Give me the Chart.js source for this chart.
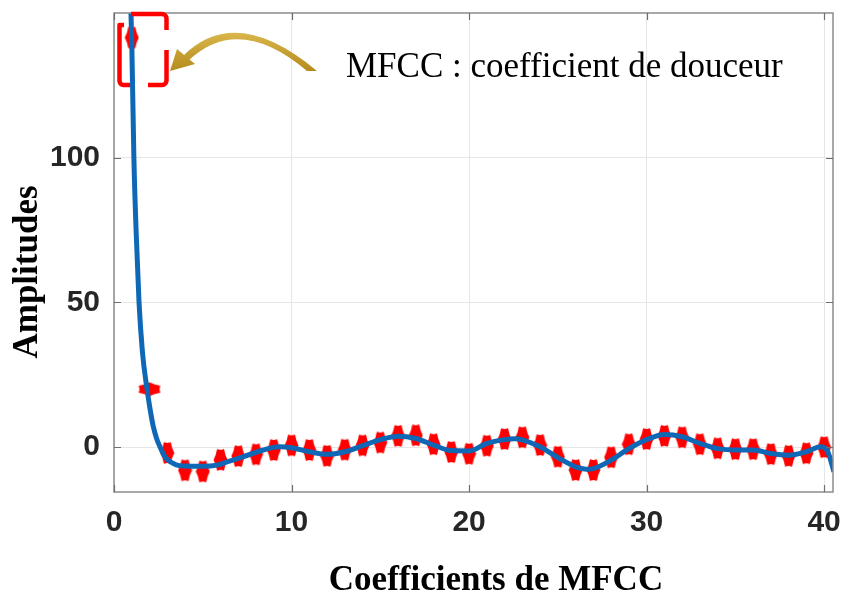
<!DOCTYPE html>
<html>
<head>
<meta charset="utf-8">
<script src="https://cdn.jsdelivr.net/npm/chart.js@4.4.1/dist/chart.umd.min.js"></script>
<style>
	html, body { margin: 0; padding: 0; background: #fff; }
	#c { display: block; }
</style>
</head>
<body>
<canvas id="c" width="843" height="596"></canvas>
<script>
// MFCC coefficients (red markers) and the smooth fitted curve (blue line).
const COEF_X = [1, 2, 3, 4, 5, 6, 7, 8, 9, 10, 11, 12, 13, 14, 15, 16, 17, 18, 19, 20,
	21, 22, 23, 24, 25, 26, 27, 28, 29, 30, 31, 32, 33, 34, 35, 36, 37, 38, 39, 40];
const COEF_Y = [141.5, 20, -2, -8, -8.4, -4.4, -3.1, -2.5, -1, 0.6, -1, -3, -0.9, 0.6, 1.6, 3.9, 4.1, 1, -1.7, -2.3,
	0.5, 2.8, 3.4, 0.7, -3.3, -7.9, -7.9, -3.5, 1, 2.8, 3.9, 3.4, 1, -0.4, -0.7, -0.7, -2.4, -3, -2.1, 0];

const FIT_X = [0.9, 1, 1.12, 1.25, 1.41, 1.6, 1.86, 2.05, 2.2, 2.4, 2.6, 2.8, 3, 3.5, 4, 5, 5.8, 6.5, 7.3, 8.4, 9.3, 10, 11, 12, 13, 14,
	15, 16, 17, 18, 19, 20, 21, 22, 22.6, 23, 24, 25, 26, 26.6, 27, 28, 29, 30, 31, 32, 33, 34, 35, 36,
	37, 38, 39, 39.8, 40.2, 40.55];
const FIT_Y = [162, 140, 100, 74, 50, 33, 20, 12.5, 7.5, 3, 0, -2.6, -4.3, -6.1, -6.5, -6.6, -6.2, -4.8, -3.3, -1, 0.1, -0.2, -1.6, -2.5, -1.6, 0.5,
	2.6, 3.8, 3, 0.7, -1.2, -1.3, 1.3, 2.6, 2.9, 2.5, 0.1, -3.6, -6.8, -7.6, -7.4, -4.5, -0.5, 2.6, 4.4, 3.6, 1.3, -0.5, -1, -1,
	-2.2, -2.8, -1.6, 0.1, -1.5, -8.5];

const X_TICKS = [0, 10, 20, 30, 40];
const Y_TICKS = [0, 50, 100];

const X_TITLE = 'Coefficients de MFCC';
const Y_TITLE = 'Amplitudes';
const NOTE = 'MFCC : coefficient de douceur';

// Filled six-point star, stretched vertically (the x=2 one is turned flat).
function makeMarker(w, h) {
	const c = document.createElement('canvas');
	c.width = w;
	c.height = h;
	const g = c.getContext('2d');
	g.translate(w / 2, h / 2);
	g.beginPath();
	for (let k = 0; k < 12; k++) {
		const a = (k * Math.PI) / 6;
		const r = k % 2 === 0 ? 1 : 0.8;
		g.lineTo(Math.cos(a) * r * (w / 2 - 0.5), Math.sin(a) * r * (h / 2 - 0.5));
	}
	g.closePath();
	g.fillStyle = '#ff0000';
	g.fill();
	return c;
}

// Box, inward ticks, axis titles and the top-left annotation (bracket, arrow, note).
const decorPlugin = {
	id: 'decor',
	afterDraw(chart) {
		const { ctx, chartArea: a, scales } = chart;
		ctx.save();
		ctx.strokeStyle = '#8c8c8c';
		ctx.lineWidth = 1.5;
		ctx.strokeRect(a.left, a.top, a.right - a.left, a.bottom - a.top);
		ctx.lineWidth = 1.2;
		ctx.strokeStyle = '#6e6e6e';
		ctx.beginPath();
		for (const t of X_TICKS) {
			const x = Math.round(scales.x.getPixelForValue(t)) + 0.5;
			ctx.moveTo(x, a.bottom);
			ctx.lineTo(x, a.bottom - 7);
			ctx.moveTo(x, a.top);
			ctx.lineTo(x, a.top + 7);
		}
		for (const t of Y_TICKS) {
			const y = Math.round(scales.y.getPixelForValue(t)) + 0.5;
			ctx.moveTo(a.left, y);
			ctx.lineTo(a.left + 7, y);
			ctx.moveTo(a.right, y);
			ctx.lineTo(a.right - 7, y);
		}
		ctx.stroke();

		// axis titles (sit a little off the axis centres in the original)
		ctx.fillStyle = '#000';
		ctx.font = 'bold 35px "Liberation Serif", "Times New Roman", serif';
		ctx.textAlign = 'center';
		ctx.textBaseline = 'alphabetic';
		ctx.fillText(X_TITLE, 496, 590);
		ctx.save();
		ctx.translate(37, 272);
		ctx.rotate(-Math.PI / 2);
		ctx.fillText(Y_TITLE, 0, 0);
		ctx.restore();

		// red bracket
		ctx.strokeStyle = '#ff0000';
		ctx.lineWidth = 4.5;
		ctx.lineJoin = 'round';
		ctx.beginPath();
		ctx.moveTo(124, 25);
		ctx.lineTo(119.5, 25);
		ctx.lineTo(119.5, 81);
		ctx.arcTo(119.5, 85, 124, 85, 4);
		ctx.lineTo(130, 85);
		ctx.moveTo(131, 14);
		ctx.lineTo(162, 14);
		ctx.arcTo(166.5, 14, 166.5, 19, 4.5);
		ctx.lineTo(166.5, 30);
		ctx.moveTo(166.5, 50);
		ctx.lineTo(166.5, 81);
		ctx.arcTo(166.5, 85, 162, 85, 4.5);
		ctx.lineTo(148, 85);
		ctx.stroke();

		// gold curved arrow
		const grad = ctx.createLinearGradient(0, 30, 0, 72);
		grad.addColorStop(0, '#dcb94e');
		grad.addColorStop(1, '#b48a1c');
		ctx.fillStyle = grad;
		ctx.beginPath();
		ctx.moveTo(317, 71);
		ctx.quadraticCurveTo(236, 3, 183, 56);
		ctx.lineTo(188, 61);
		ctx.quadraticCurveTo(238.5, 13, 307, 71);
		ctx.closePath();
		ctx.fill();
		ctx.beginPath();
		ctx.moveTo(170, 71);
		ctx.lineTo(177, 49);
		ctx.lineTo(195, 64);
		ctx.closePath();
		ctx.fill();

		ctx.fillStyle = '#000';
		ctx.font = '35px "Liberation Serif", "Times New Roman", serif';
		ctx.textAlign = 'left';
		ctx.fillText(NOTE, 346, 77);
		ctx.restore();
	},
};

const marker = makeMarker(15, 26);
const tickFont = { family: '"Liberation Sans", Arial, sans-serif', weight: 'bold', size: 30 };

new Chart(document.getElementById('c'), {
	type: 'scatter',
	data: {
		datasets: [
			{
				type: 'line',
				label: 'fit',
				data: FIT_X.map((x, i) => ({ x, y: FIT_Y[i] })),
				borderColor: '#0e68b6',
				borderWidth: 5,
				pointRadius: 0,
				cubicInterpolationMode: 'monotone',
				fill: false,
			},
			{
				label: 'MFCC',
				data: COEF_X.map((x, i) => ({ x, y: COEF_Y[i] })),
				pointStyle: marker,
				pointRadius: 6,
				pointRotation: COEF_X.map((x) => (x === 2 ? 90 : 0)),
			},
		],
	},
	options: {
		responsive: false,
		animation: false,
		layout: { padding: { top: 13, right: 10, left: 0, bottom: 0 } },
		plugins: { legend: { display: false }, tooltip: { enabled: false } },
		scales: {
			x: {
				type: 'linear',
				min: 0,
				max: 40.5,
				afterFit: (s) => {
					s.height = 104;
					s.paddingLeft = 0;
					s.paddingRight = 0;
				},
				afterBuildTicks: (s) => { s.ticks = X_TICKS.map((v) => ({ value: v })); },
				grid: { color: '#e6e6e6', drawTicks: false },
				border: { display: false },
				ticks: { color: '#262626', font: tickFont, padding: 13, maxRotation: 0, autoSkip: false },
			},
			y: {
				type: 'linear',
				min: -15.5,
				max: 150,
				afterFit: (s) => {
					s.width = 114;
					s.paddingTop = 0;
					s.paddingBottom = 0;
				},
				afterBuildTicks: (s) => { s.ticks = Y_TICKS.map((v) => ({ value: v })); },
				grid: { color: '#e6e6e6', drawTicks: false },
				border: { display: false },
				ticks: { color: '#262626', font: tickFont, padding: 14 },
			},
		},
	},
	plugins: [decorPlugin],
});
</script>
</body>
</html>
